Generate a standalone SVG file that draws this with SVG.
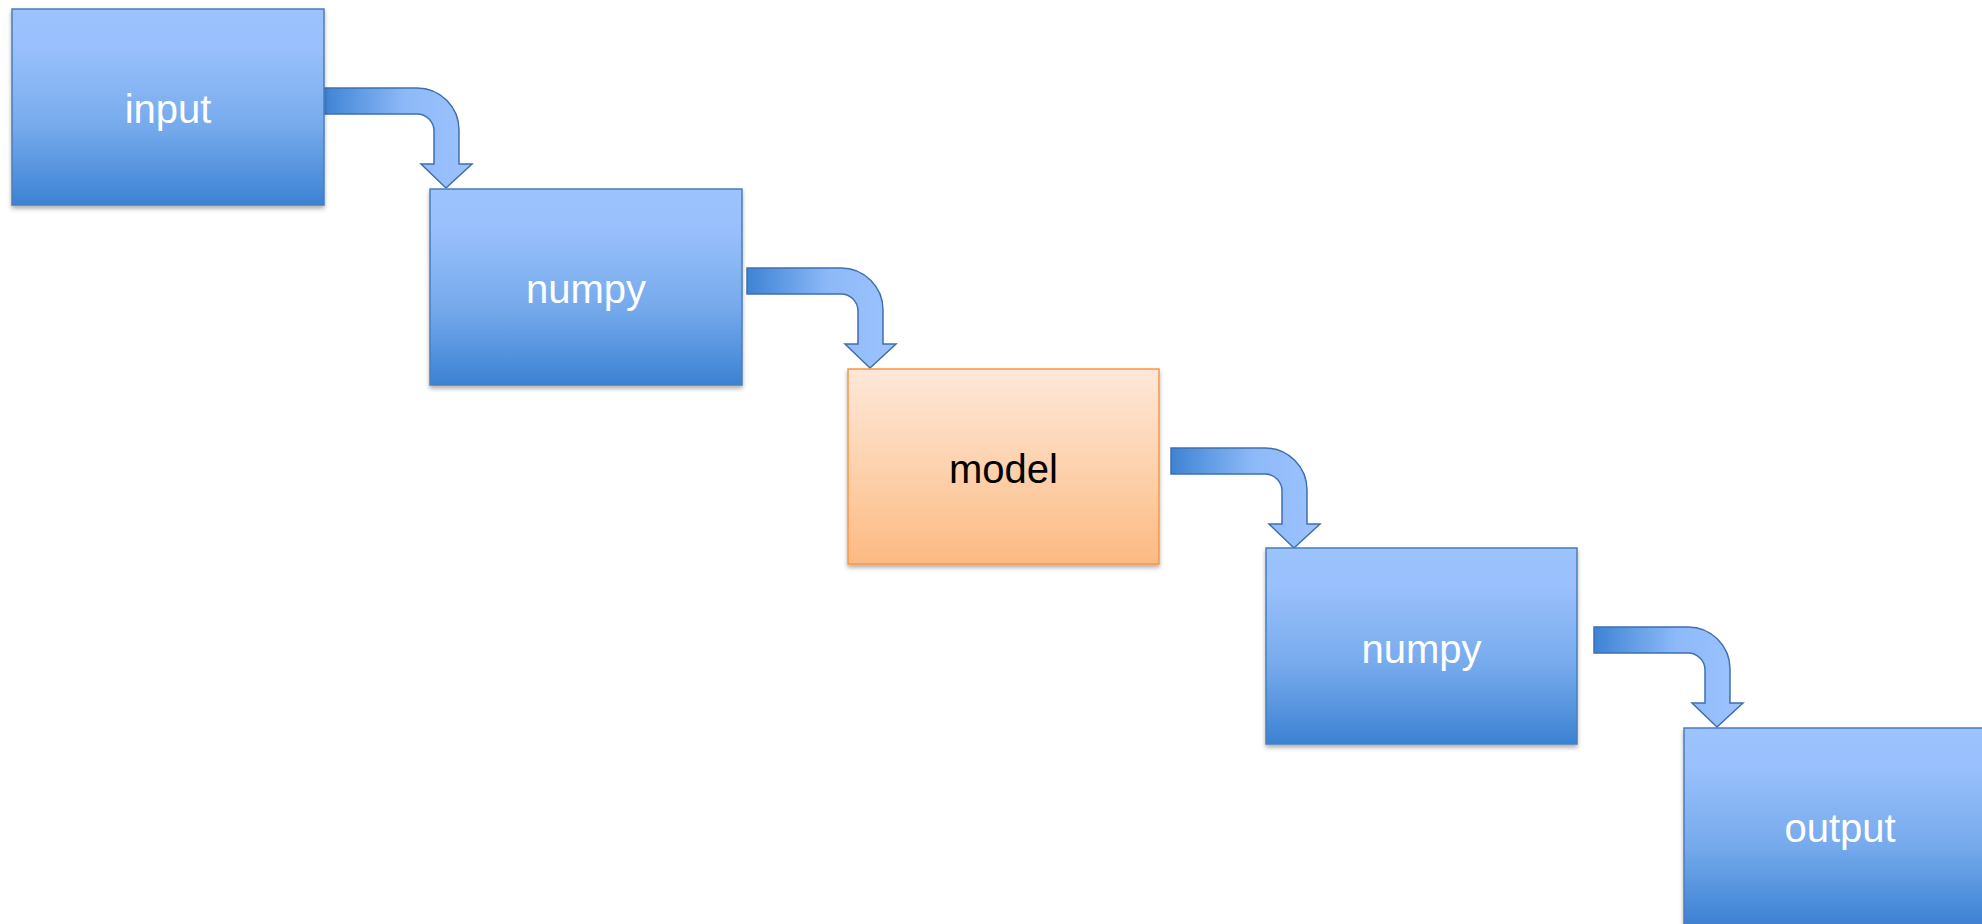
<svg xmlns="http://www.w3.org/2000/svg" width="1982" height="924" viewBox="0 0 1982 924">
<defs>
<linearGradient id="gBlue" x1="0" y1="0" x2="0" y2="1">
<stop offset="0" stop-color="#9DC3FE"/>
<stop offset="0.2" stop-color="#99C0FC"/>
<stop offset="0.6" stop-color="#76AAEC"/>
<stop offset="1" stop-color="#3C82D3"/>
</linearGradient>
<linearGradient id="gOrange" x1="0" y1="0" x2="0" y2="1">
<stop offset="0" stop-color="#FEE8D9"/>
<stop offset="0.5" stop-color="#FDD2AE"/>
<stop offset="1" stop-color="#FCBA82"/>
</linearGradient>
<linearGradient id="gArrow" x1="0" y1="0" x2="1" y2="0">
<stop offset="0" stop-color="#3D83D4"/>
<stop offset="0.55" stop-color="#8DB9F8"/>
<stop offset="1" stop-color="#9DC3FE"/>
</linearGradient>
<filter id="sh" x="-5%" y="-5%" width="110%" height="115%">
<feDropShadow dx="0" dy="3" stdDeviation="2" flood-color="#000" flood-opacity="0.3"/>
</filter>
<path id="arrow" d="M0,0 H94 A42,42 0 0 1 136,42 V76 H149 L123,100 L98,76 H111 V43 A17,17 0 0 0 94,26 H0 Z"/>
</defs>
<style>
.blue{fill:url(#gBlue);stroke:#4A7EBB;stroke-width:1.5;filter:url(#sh)}
.orange{fill:url(#gOrange);stroke:#F79646;stroke-width:1.5;filter:url(#sh)}
.arr{fill:url(#gArrow);stroke:#3F6FAD;stroke-width:1.5}
.lbl{font-family:"Liberation Sans",Arial,sans-serif;font-size:40px;text-anchor:middle;fill:#FFFFFF}
.dark{fill:#000000}
</style>
<rect width="1982" height="924" fill="#FFFFFF"/>
<g id="connectors">
<use href="#arrow" class="arr" transform="translate(323,88)"/>
<use href="#arrow" class="arr" transform="translate(747,268)"/>
<use href="#arrow" class="arr" transform="translate(1171,448)"/>
<use href="#arrow" class="arr" transform="translate(1594,627)"/>
</g>
<g id="input">
<rect class="blue" x="12" y="9" width="312" height="196"/>
<text class="lbl" x="168" y="123">input</text>
</g>
<g id="numpy1">
<rect class="blue" x="430" y="189" width="312" height="196"/>
<text class="lbl" x="586" y="303">numpy</text>
</g>
<g id="model">
<rect class="orange" x="848" y="369" width="311" height="195"/>
<text class="lbl dark" x="1003.5" y="483">model</text>
</g>
<g id="numpy2">
<rect class="blue" x="1266" y="548" width="311" height="196"/>
<text class="lbl" x="1421.5" y="663">numpy</text>
</g>
<g id="output">
<rect class="blue" x="1684" y="728" width="312" height="196"/>
<text class="lbl" x="1840" y="842">output</text>
</g>
</svg>
